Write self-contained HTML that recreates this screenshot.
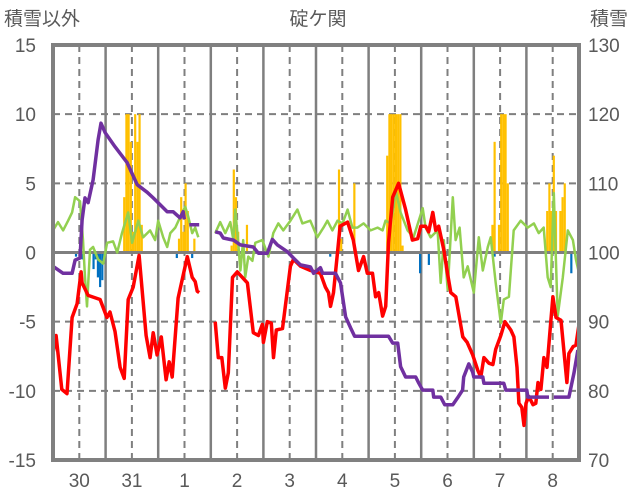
<!DOCTYPE html>
<html><head><meta charset="utf-8">
<style>
body{margin:0;background:#fff;}
svg{display:block;font-family:"Liberation Sans","Noto Sans CJK JP",sans-serif;}
</style></head>
<body>
<svg id="chart" width="636" height="501" viewBox="0 0 636 501" xmlns="http://www.w3.org/2000/svg">
<text x="318" y="25" font-size="19" fill="#595959" text-anchor="middle">碇ケ関</text>
<text x="4" y="25" font-size="19" fill="#595959">積雪以外</text>
<text x="590" y="25" font-size="19" fill="#595959">積雪</text>
</svg>
<script>
const dayLabels=["30","31","1","2","3","4","5","6","7","8"];
const leftTicks=[15,10,5,0,-5,-10,-15];
const rightTicks=[130,120,110,100,90,80,70];
const redT=[0,1.4,4,6.4,8.7,11,12.8,13.3,16,21.5,24.6,26,28.3,30.6,32.5,34.3,36.6,39.3,42.5,44.3,45.7,47.5,49.4,51.6,53,54.4,57.1,61.3,63.5,64.9,65.8,66.7,70,74,75.4,77,78.6,80,81.9,84.1,88.7,91.4,93.7,95.5,96,97.8,99.6,100.6,101.9,104.7,108.3,109.7,113,117.5,122,124.3,125.7,126.6,128,129.8,131,134.4,137,139.4,141.7,143.4,145.8,147.2,148.6,150.4,151.8,153.1,155,157.7,160.9,164,166.4,167.8,170,171.4,173.3,174.6,176,178.3,180,181.5,183.8,187,189,191.5,193.8,195.2,196.6,198.9,200.7,202,204.3,206.2,208.9,210.3,211.7,212.6,213.9,214.9,215.8,217.1,219,220.3,221.3,222.6,224,225.4,227.2,228.1,229.5,231.8,234.5,235.4,237.3,238.6,240];
const redV=[-7.3,-6.0,-9.9,-10.2,-4.7,-3.7,-1.4,-2.2,-3.1,-3.4,-4.7,-4.3,-5.7,-8.3,-9.1,-3.4,-2.5,-0.2,-6.0,-7.6,-5.8,-7.4,-6.1,-9.2,-7.9,-9.0,-3.3,-0.3,-1.8,-2.1,-2.8,-2.9,null,-5.0,-7.6,-7.6,-9.8,-8.7,-1.8,-1.4,-2.2,-5.8,-6.0,-5.2,-6.5,-5.0,-5.1,-7.6,-5.6,-5.5,-1.0,-0.5,-1.0,-1.3,-1.5,-2.5,-2.9,-3.9,-2.9,0,1.9,2.2,0.9,-1.3,-0.3,-1.5,-1.5,-3.2,-2.9,-4.6,-3.9,0.7,4.0,5.0,3.1,0.9,1.0,1.9,1.9,1.5,2.9,1.6,1.9,0.2,-1.5,-2.9,-3.2,-6.1,-6.5,-7.4,-8.5,-9.0,-7.6,-8.0,-8.1,-7.0,-6.0,-5.0,-5.6,-6.1,-8.3,-10.9,-11.2,-12.5,-10.9,-10.4,-11.0,-10.9,-9.4,-9.9,-7.6,-8.3,-4.9,-3.2,-4.7,-4.9,-9.4,-7.3,-6.8,-6.7,-5.2];
const purT=[0,4.6,8.7,10.1,12.3,13.3,14.6,16,18.3,20.6,
21.9,23.8,28.3,33.8,38.4,43,45.7,48.9,52.1,54.8,
58,59.4,59.9,62,62.2,66.7,70,74,76.3,77.7,
82.3,85.5,91.4,93.7,97.8,100.1,102.4,107,109.7,112.9,
117.5,118.9,122,123,128.9,131.2,133.5,135.8,137.6,153.1,
155,157.3,158.6,160.9,165.5,166.9,168.7,173.3,173.7,176.9,
178.7,182.4,184.6,186.9,187.4,189.7,191.5,192,196.1,196.6,
205.7,206.6,216.2,216.7,226.3,227,228.5,235.4,237.7,239.5];
const purV=[98.0,97.0,97.0,98.9,99.2,104.7,107.9,107.2,110.5,116.3,
118.7,117.3,115.3,113,109.8,108.7,107.9,106.9,105.9,105.9,
105,105.9,104.8,null,104,104,null,103,102.8,102.1,
101.8,101.1,100.8,99.9,99.9,101.9,101.1,100.1,99.2,98.2,
97.9,97.0,97.8,97.0,97.0,95.6,90.7,89.1,87.9,87.9,
86.9,86.9,83.5,82.0,82.0,81.1,80.1,80.1,79.1,79.1,
78.0,78.0,79.0,80.1,82.0,83.9,82.7,82.0,82.0,81.1,
81.1,80.1,80.1,79.1,79.1,null,79.1,79.1,82.6,85.9];
const grnT=[0,2.3,4.6,6.9,8.7,10.1,12.3,13.7,14.6,15.5,
16.9,18.3,20.6,22.9,24.7,27.4,29.3,31.5,34.3,36.1,
38.9,41.1,44.3,46.6,48,50.3,52.1,53.5,55.8,59,
60.3,61.7,63.5,64.9,66.3,70,74,76.3,78.6,80.9,
82.3,83.2,84.5,85.5,86.8,87.7,89.1,91,92.3,95.5,
98.3,100.5,102.8,105.1,108.3,111.5,113.8,117.4,120.6,123.4,
125.2,127.5,129.8,132.1,134.4,136.6,138.9,141.7,144.9,148.1,
150.4,151.7,154,155.4,156.3,158.6,161.8,164.5,168.7,170,
172.3,175.5,176.9,178.3,180.1,182.4,183.7,185.5,187.4,189.2,
192,194.3,196.1,198.4,199.7,202,204.3,205.7,208,210.2,
213.4,216.6,219.4,221.6,223.9,225.7,227.1,228.5,230.3,232.6,
234.9,237.2,238.6,240];
const grnV=[1.6,2.2,1.6,2.3,2.9,4.0,3.7,0.9,-1.8,-3.9,
0.2,0.4,-0.5,-0.8,0.7,0.8,0,1.4,2.9,0.7,
2.3,1.1,1.6,0.9,2.3,1.1,0.4,1.4,1.8,2.9,
3.3,2.6,1.4,1.8,1.1,null,1.4,2.2,1.4,2.2,
0.9,3.1,0.7,-1.3,0.9,-1.8,-0.3,-0.6,0.7,0.9,
-0.3,1.4,2.1,1.6,2.3,3.1,2.1,2.3,1.1,1.8,
2.3,1.6,2.3,2.1,3.1,1.8,1.8,2.1,1.6,1.8,
1.6,2.3,2.1,3.3,4.5,2.9,1.6,1.1,3.2,1.8,
1.1,1.6,-2.2,0.9,-2.7,4.0,0.9,1.8,-1.8,-1.0,
-2.9,1.1,-1.3,0.4,1.1,-2.2,-5.1,-3.4,-3.2,1.6,
2.3,1.8,2.1,1.4,1.8,-1.8,-2.5,4.3,-4.6,-1.8,
1.6,0.9,-0.5,-1.5];
const orangeT=[32,33,34,35,36,37,38,39,40,57,58,59,60,61,64,81,82,83,84,88,130,131,137,152,153,154,155,156,157,158,159,200,201,203,204,205,206,207,225,226,227,228,229,231,232,233];
const orangeV=[4,10,10,8,1.5,10,8,10,2,1,4,1.5,5,3,1,0.5,6,4,1.5,2,6,1,5,7,10,10,10,10,10,10,0.5,2,8,2,10,10,10,5,3,5,3,7,3,3,4,5];
const blueT=[10,13,18,19,20,21,22,23,56,63,126,167,171,201,236,239];
const blueV=[-0.3,-0.5,-1.2,-0.5,-1.8,-2.5,-2.0,-0.5,-0.4,-0.4,-0.3,-1.5,-0.9,-0.3,-1.5,-0.7];

const NS="http://www.w3.org/2000/svg";
const svg=document.getElementById('chart');
const X0=53,X1=579,Y0=45,Y1=460;
const xS=t=>X0+t*(X1-X0)/240;
const yL=v=>Y0+(15-v)*(Y1-Y0)/30;
const yR=v=>Y0+(130-v)*(Y1-Y0)/60;
function mk(tag,attrs){const e=document.createElementNS(NS,tag);for(const k in attrs)e.setAttribute(k,attrs[k]);svg.appendChild(e);return e;}

leftTicks.forEach(v=>{
  if(v===15||v===-15||v===0)return;
  const g=mk('line',{x1:X0,x2:X1,y1:yL(v),y2:yL(v),stroke:'#7f7f7f','stroke-width':2,'stroke-dasharray':'7,5'});
  
  
});
dayLabels.forEach((d,i)=>{
  const xm=xS(i*24+12);
  const g=mk('line',{x1:xm,x2:xm,y1:Y0,y2:Y1,stroke:'#7f7f7f','stroke-width':2,'stroke-dasharray':'7,5'});
  
  
  if(i>0){
    const xd=xS(i*24);
    const s=mk('line',{x1:xd,x2:xd,y1:Y0,y2:Y1,stroke:'#7f7f7f','stroke-width':2.5});
    
    
  }
  const tx=mk('text',{x:xm,y:487,'font-size':19,fill:'#595959','text-anchor':'middle'});
  tx.textContent=d;
  
  
});
leftTicks.forEach(v=>{
  const t=mk('text',{x:36,y:yL(v)+7,'font-size':19,fill:'#595959','text-anchor':'end'});
  t.textContent=v;
  
  
});
rightTicks.forEach(v=>{
  const t=mk('text',{x:588,y:yR(v)+7,'font-size':19,fill:'#595959'});
  t.textContent=v;
  
  
});
const bw=(X1-X0)/240;
orangeT.forEach((t,i)=>{
  const v=orangeV[i];
  const b=mk('rect',{x:xS(t),y:yL(v),width:bw,height:yL(0)-yL(v),fill:'#ffc000'});
  
  
});
blueT.forEach((t,i)=>{
  const v=blueV[i];
  const b=mk('rect',{x:xS(t),y:yL(0),width:bw,height:yL(v)-yL(0),fill:'#0070c0'});
  
  
});
const z=mk('line',{x1:X0,x2:X1,y1:yL(0),y2:yL(0),stroke:'#7f7f7f','stroke-width':3});


function path(T,V,yf){let d='',pen=false;T.forEach((t,i)=>{const v=V[i];if(v===null||v===undefined){pen=false;return;}d+=(pen?'L':'M')+xS(t).toFixed(1)+','+yf(v).toFixed(1);pen=true;});return d;}
const gl=mk('path',{d:path(grnT,grnV,yL),fill:'none',stroke:'#92d050','stroke-width':2.5,'stroke-linejoin':'round'});


const rl=mk('path',{d:path(redT,redV,yL),fill:'none',stroke:'#ff0000','stroke-width':3.5,'stroke-linejoin':'round'});


const pl=mk('path',{d:path(purT,purV,yR),fill:'none',stroke:'#7030a0','stroke-width':3.5,'stroke-linejoin':'round'});


const fr=mk('rect',{x:X0,y:Y0,width:X1-X0,height:Y1-Y0,fill:'none',stroke:'#808080','stroke-width':4});


</script>
</body></html>
